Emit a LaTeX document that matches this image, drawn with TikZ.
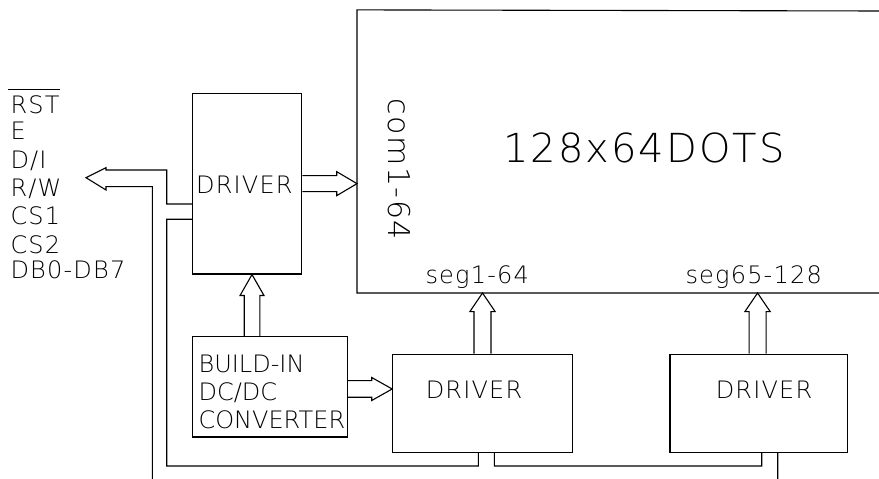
\documentclass[tikz,border=0pt]{standalone}
\usepackage{fontspec}
\newfontfamily\cadfont[LetterSpace=5]{DejaVu Sans ExtraLight}
\newfontfamily\cadplain{DejaVu Sans ExtraLight}
\usetikzlibrary{calc}
\begin{document}
\begin{tikzpicture}[x=1pt,y=1pt,line width=1.1pt,
  box/.style={draw,rectangle,inner sep=0pt},
  txt/.style={inner sep=0pt,font=\cadfont\fontsize{24}{28}\selectfont},
  cvtxt/.style={inner sep=0pt,anchor=base west,font=\cadplain\fontsize{24}{28}\selectfont}]
\useasboundingbox (0,0) rectangle (879,479);
\fill[white] (0,0) rectangle (879,479);

% LCD panel (right side runs off the picture)
\node[box,draw=none,minimum width=540,minimum height=282,anchor=south west] (lcd) at (357,186) {};
\draw (879,468) -- (lcd.north west) -- (lcd.south west) -- (879,186);
\node[txt,font=\cadfont\fontsize{40}{40}\selectfont,anchor=base] (dots) at (644,316) {128x64DOTS};
\node[txt,font=\cadfont\fontsize{30}{30}\selectfont,rotate=-90,anchor=base west] (com) at (388,381) {com1-64};
\node[txt,anchor=base west] (seg1) at (425,195.7) {seg1-64};
\node[txt,anchor=base west] (seg2) at (685,195.7) {seg65-128};

% drivers and converter
\node[box,minimum width=109,minimum height=180.7] (d1) at (247.2,295.35) {};
\node[txt] (d1t) at (244.4,294) {DRIVER};
\node[box,minimum width=154.6,minimum height=100.3] (cv) at (270,92.15) {};
\node[cvtxt] (cv1) at (198,106.3) {BUILD-IN};
\node[cvtxt] (cv2) at (198,78.3) {DC/DC};
\node[cvtxt] (cv3) at (198,50) {CONVERTER};
\node[box,minimum width=179.6,minimum height=98.4] (d2) at (482.5,75.5) {};
\node[txt] (d2t) at (474,89) {DRIVER};
\node[box,minimum width=177.7,minimum height=98.4] (d3) at (758.85,75.5) {};
\node[txt] (d3t) at (764,89) {DRIVER};

% signal names
\node[txt,anchor=base west] (rst) at (10,365.7) {RST};
\draw ($(rst.north west)+(-2,5.7)$) -- ($(rst.north east)+(0,5.7)$);
\node[txt,anchor=base west] (e) at (10,339) {E};
\node[txt,anchor=base west] (di) at (10,310.7) {D/I};
\node[txt,anchor=base west] (rw) at (10,282.3) {R/W};
\node[txt,anchor=base west] (cs1) at (10,254) {CS1};
\node[txt,anchor=base west] (cs2) at (10,225.7) {CS2};
\node[txt,anchor=base west] (db) at (10,200.7) {DB0-DB7};

% hollow bus arrows
\coordinate (T1) at (d1.east -| lcd.west);
\draw ($(d1.east)+(0,8)$) -- ($(T1)+(-20.3,8)$) -- ($(T1)+(-20.3,12)$) -- (T1)
  -- ($(T1)+(-20.3,-12)$) -- ($(T1)+(-20.3,-8)$) -- ($(d1.east)+(0,-8)$);

\coordinate (B2) at ($(cv.east)+(0,-2.15)$);
\coordinate (T2) at (B2 -| d2.west);
\draw ($(B2)+(0,8.3)$) -- ($(T2)+(-20.4,8.3)$) -- ($(T2)+(-20.4,11.5)$) -- (T2)
  -- ($(T2)+(-20.4,-11.5)$) -- ($(T2)+(-20.4,-8.3)$) -- ($(B2)+(0,-8.3)$);

\coordinate (B3) at ($(cv.north)+(-18,0)$);
\coordinate (T3) at (B3 |- d1.south);
\draw ($(B3)+(-7.8,0)$) -- ($(T3)+(-7.8,-21)$) -- ($(T3)+(-12,-21)$) -- (T3)
  -- ($(T3)+(12,-21)$) -- ($(T3)+(7.8,-21)$) -- ($(B3)+(7.8,0)$);

\coordinate (T4) at (d2.north |- lcd.south);
\draw ($(d2.north)+(-8.5,0)$) -- ($(T4)+(-8.5,-18.7)$) -- ($(T4)+(-12.7,-18.7)$) -- (T4)
  -- ($(T4)+(12.7,-18.7)$) -- ($(T4)+(8.5,-18.7)$) -- ($(d2.north)+(8.5,0)$);

\coordinate (B5) at ($(d3.north)+(-1.3,0)$);
\coordinate (T5) at (B5 |- lcd.south);
\draw ($(B5)+(-8.5,0)$) -- ($(T5)+(-8.5,-18.7)$) -- ($(T5)+(-12.7,-18.7)$) -- (T5)
  -- ($(T5)+(12.7,-18.7)$) -- ($(T5)+(8.5,-18.7)$) -- ($(B5)+(8.5,0)$);

% main bus to the interface signals
\coordinate (sig) at (86,301.3);
\draw ($(d1.west)+(0,-20.35)$) -- (166.7,275) -- (166.7,309) -- (106,309) -- (106,311.3)
  -- (sig) -- (106,289) -- (106,292.3) -- (152.3,292.3) -- (152.3,0);

% lines along the bottom
\draw ($(d1.west)+(0,-35.65)$) -- (166.7,259.7) -- (166.7,13) -- (478.3,13)
  -- ($(d2.south)+(-4.2,0)$);
\draw ($(d2.south)+(11.8,0)$) -- (494.3,13) -- (761.7,13) -- ($(d3.south)+(2.85,0)$);
\draw ($(d3.south)+(18.85,0)$) -- (777.7,0);
\end{tikzpicture}
\end{document}
